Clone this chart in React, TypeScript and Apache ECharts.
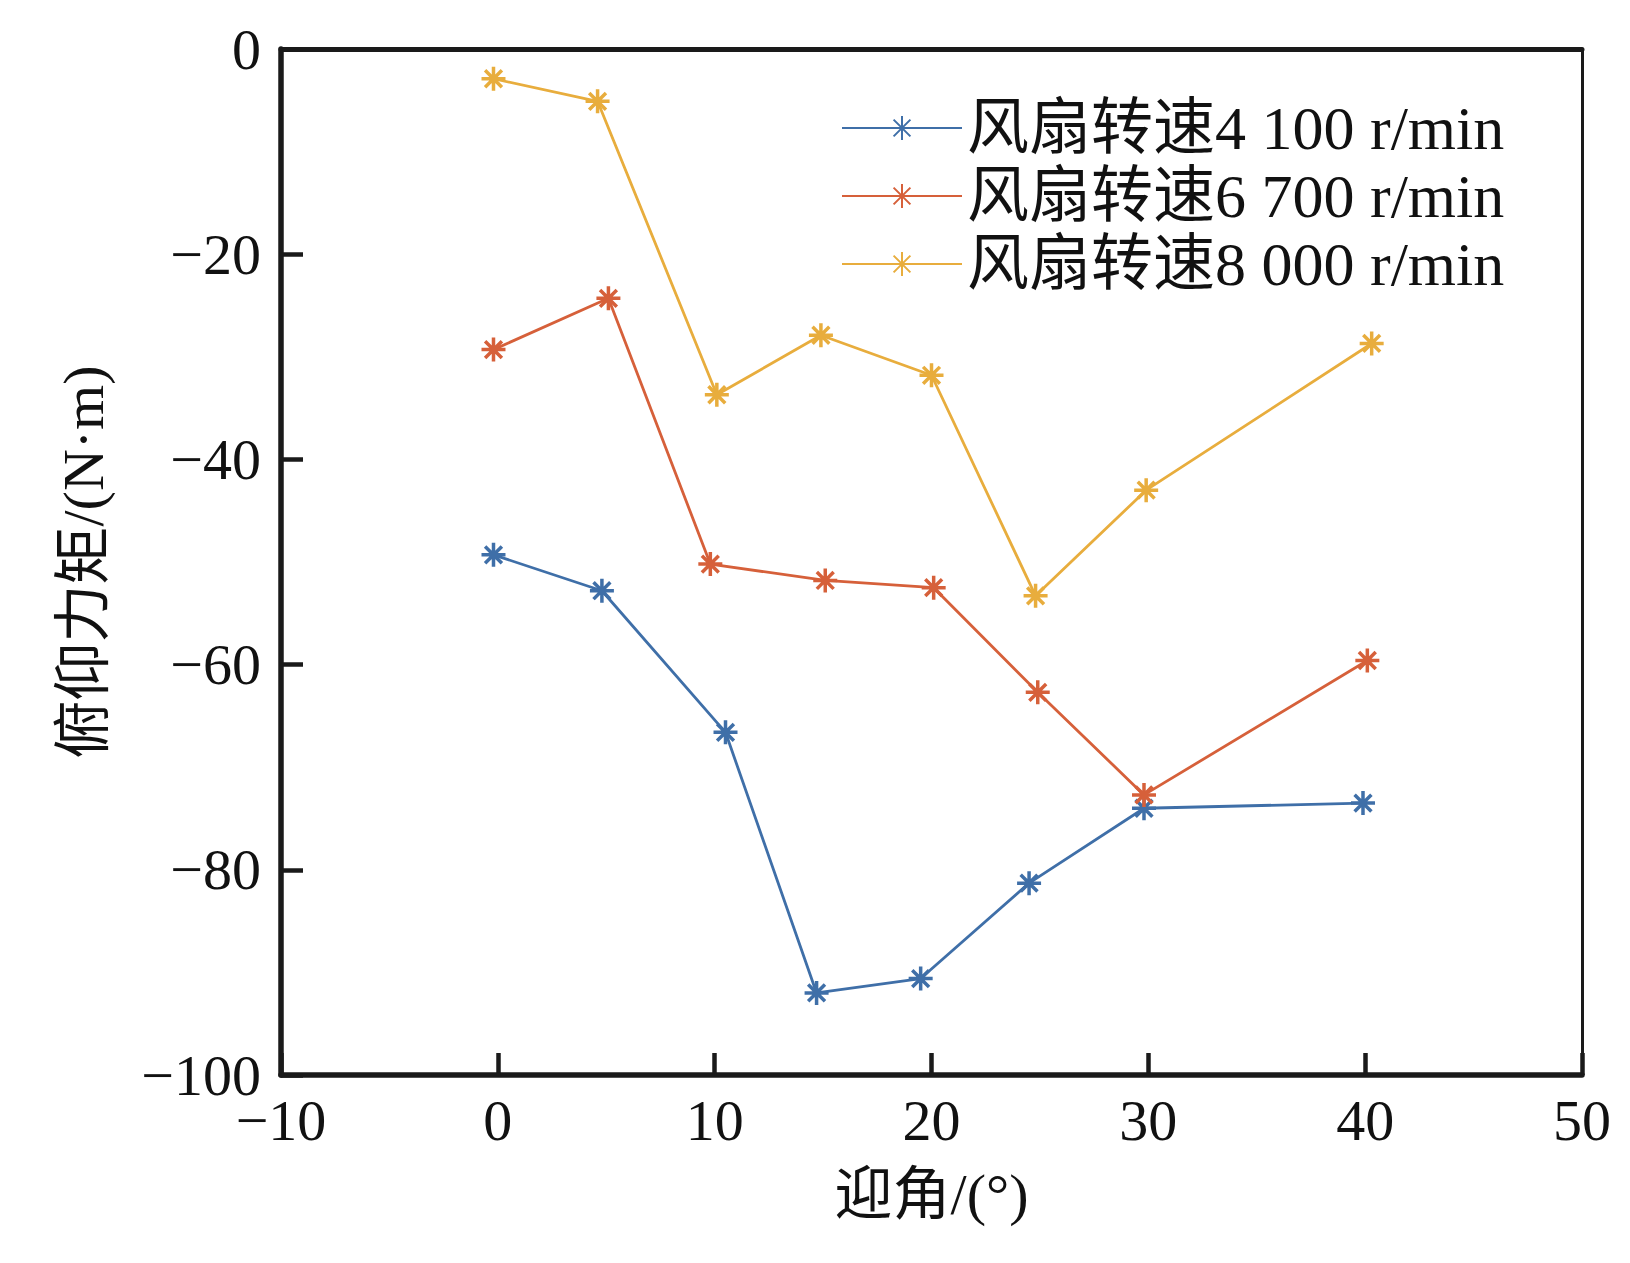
import React, { useEffect, useRef } from "react";
import * as echarts from "echarts";

const seriesNames = ["风扇转速4 100 r/min", "风扇转速6 700 r/min", "风扇转速8 000 r/min"];
const seriesColors = ["#3f6fa8", "#d6603a", "#e8ad3d"];

const angle4100 = [-0.2, 4.8, 10.5, 14.7, 19.5, 24.5, 29.8, 39.9];
const moment4100 = [-49.3, -52.8, -66.6, -92.0, -90.6, -81.3, -74.0, -73.5];
const angle6700 = [-0.2, 5.1, 9.8, 15.1, 20.1, 24.9, 29.8, 40.1];
const moment6700 = [-29.3, -24.3, -50.2, -51.8, -52.5, -62.7, -72.7, -59.6];
const angle8000 = [-0.2, 4.6, 10.1, 14.9, 20.0, 24.8, 29.9, 40.3];
const moment8000 = [-2.9, -5.1, -33.7, -27.9, -31.8, -53.3, -43.0, -28.7];

const xTitle = "迎角/(°)";
const yTitle = "俯仰力矩/(N·m)";

const FONT = '"Liberation Serif", "Times New Roman", "Noto Sans CJK SC", serif';
const STAR = "path://M10,0L10,20M0,10L20,10M3,3L17,17M3,17L17,3";

const fmt = (v: number) => (v < 0 ? "\u2212" + Math.abs(v) : String(v));

function pairs(xs: number[], ys: number[]) {
  return xs.map((x, i) => [x, ys[i]]);
}

export default function App() {
  const ref = useRef<HTMLDivElement>(null);
  useEffect(() => {
    if (!ref.current) return;
    const chart = echarts.init(ref.current, undefined, { renderer: "svg" });
    const datasets = [
      pairs(angle4100, moment4100),
      pairs(angle6700, moment6700),
      pairs(angle8000, moment8000),
    ];
    chart.setOption({
      animation: false,
      backgroundColor: "#ffffff",
      textStyle: { fontFamily: FONT, color: "#111" },
      grid: { left: 281, right: 48, top: 49, bottom: 188, containLabel: false },
      legend: {
        orient: "vertical",
        left: 836,
        top: 92,
        itemWidth: 120,
        itemHeight: 30,
        itemGap: 6,
        data: seriesNames,
        textStyle: { fontFamily: FONT, fontSize: 62, lineHeight: 60, color: "#111" },
      },
      xAxis: [
        {
          type: "value",
          min: -10,
          max: 50,
          interval: 10,
          name: xTitle,
          nameLocation: "middle",
          nameGap: 90,
          nameTextStyle: { fontFamily: FONT, fontSize: 58, color: "#111" },
          axisLine: { show: true, onZero: false, lineStyle: { color: "#1a1a1a", width: 5.5 } },
          axisTick: { show: true, inside: true, length: 22, lineStyle: { color: "#1a1a1a", width: 4.5 } },
          axisLabel: { fontFamily: FONT, fontSize: 58, color: "#111", margin: 16, formatter: fmt },
          splitLine: { show: false },
        },
        {
          type: "value",
          position: "top",
          min: -10,
          max: 50,
          interval: 10,
          axisLine: { show: true, onZero: false, lineStyle: { color: "#1a1a1a", width: 5 } },
          axisTick: { show: false },
          axisLabel: { show: false },
          splitLine: { show: false },
        },
      ],
      yAxis: [
        {
          type: "value",
          min: -100,
          max: 0,
          interval: 20,
          name: yTitle,
          nameLocation: "middle",
          nameRotate: 90,
          nameGap: 169,
          nameTextStyle: { fontFamily: FONT, fontSize: 58, color: "#111" },
          axisLine: { show: true, onZero: false, lineStyle: { color: "#1a1a1a", width: 5.5 } },
          axisTick: { show: true, inside: true, length: 22, lineStyle: { color: "#1a1a1a", width: 4.5 } },
          axisLabel: { fontFamily: FONT, fontSize: 58, color: "#111", margin: 20, formatter: fmt },
          splitLine: { show: false },
        },
        {
          type: "value",
          position: "right",
          min: -100,
          max: 0,
          interval: 20,
          axisLine: { show: true, onZero: false, lineStyle: { color: "#1a1a1a", width: 3 } },
          axisTick: { show: false },
          axisLabel: { show: false },
          splitLine: { show: false },
        },
      ],
      series: datasets.map((d, i) => ({
        name: seriesNames[i],
        type: "line",
        xAxisIndex: 0,
        yAxisIndex: 0,
        data: d,
        symbol: STAR,
        symbolSize: 24,
        showSymbol: true,
        lineStyle: { color: seriesColors[i], width: 2.8 },
        itemStyle: { color: seriesColors[i], borderColor: seriesColors[i], borderWidth: 3.5 },
        z: 3 + i,
      })),
    });
    return () => chart.dispose();
  }, []);
  return (
    <div
      ref={ref}
      style={{ position: "fixed", left: 0, top: 0, width: "1630px", height: "1263px", background: "#fff" }}
    />
  );
}
